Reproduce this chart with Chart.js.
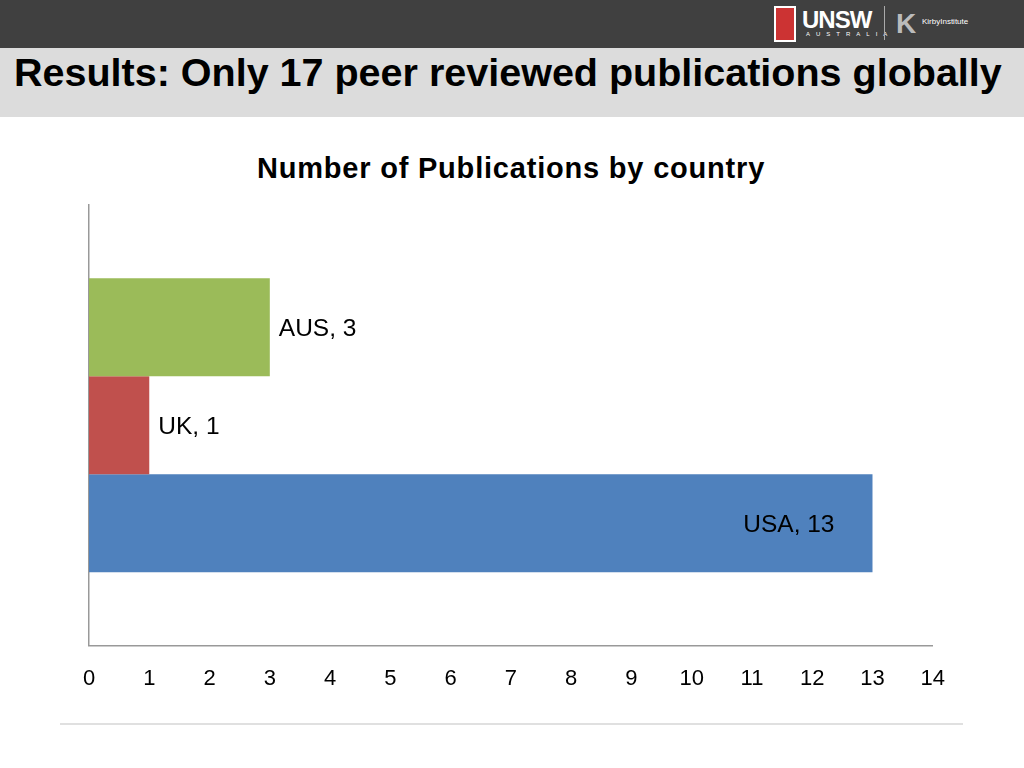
<!DOCTYPE html>
<html><head><meta charset="utf-8">
<script src="https://cdn.jsdelivr.net/npm/chart.js@4"></script>
<style>
body{margin:0;width:1024px;height:768px;position:relative;background:#fff;font-family:"Liberation Sans",Arial,sans-serif;overflow:hidden}
#top{position:absolute;left:0;top:0;width:1024px;height:48px;background:#404040}
#band{position:absolute;left:0;top:48px;width:1024px;height:69px;background:#dcdcdc}
#title{position:absolute;left:14px;top:50px;font-size:39.5px;font-weight:bold;color:#000;white-space:nowrap}
#ct{position:absolute;left:0;width:1022px;top:152px;text-align:center;font-size:29px;font-weight:bold;letter-spacing:0.8px}
#wrap{position:absolute;left:60px;top:200px;width:905px;height:512px}
#hr{position:absolute;left:60px;top:723px;width:903px;height:2px;background:#e0e0e0}
.logo{position:absolute;color:#fff;font-weight:bold}
</style></head><body>
<div id="top"></div>
<div class="logo" style="left:774px;top:6px;width:22px;height:36px;background:#c33;border:2px solid #fff;box-sizing:border-box"></div>
<div class="logo" style="left:802px;top:6px;font-size:24px;letter-spacing:-1px">UNSW</div>
<div class="logo" style="left:806px;top:31px;font-size:6px;letter-spacing:6px;font-weight:normal">AUSTRALIA</div>
<div style="position:absolute;left:884px;top:6px;width:1px;height:34px;background:#aaa"></div>
<div class="logo" style="left:896px;top:8px;font-size:28px;color:#bbb">K</div>
<div class="logo" style="left:922px;top:17px;font-size:8px;font-weight:normal">KirbyInstitute</div>
<div id="band"></div>
<div id="title">Results: Only 17 peer reviewed publications globally</div>
<div id="ct">Number of Publications by country</div>
<div id="wrap"><canvas id="c"></canvas></div>
<div id="hr"></div>
<script>
const categories=["Publications"];
const countries=["AUS","UK","USA"];
const values=[3,1,13];
const colors=["#9BBB59","#C0504D","#4F81BD"];
const xTicks=[0,1,2,3,4,5,6,7,8,9,10,11,12,13,14];
const labelPlugin={id:'lbl',afterDatasetsDraw(ch){const c=ch.ctx;c.save();c.font='24.5px "Liberation Sans",Arial';c.fillStyle='#000';c.textBaseline='middle';
ch.data.datasets.forEach((d,i)=>{const el=ch.getDatasetMeta(i).data[0];const t=countries[i]+', '+values[i];
if(values[i]>10){c.textAlign='right';c.fillText(t,el.x-38,el.y+2);}else{c.textAlign='left';c.fillText(t,el.x+9,el.y+2);}});c.restore();}};
new Chart(document.getElementById('c'),{type:'bar',
data:{labels:categories,datasets:countries.map((n,i)=>({label:n,data:[values[i]],backgroundColor:colors[i],categoryPercentage:0.667,barPercentage:1}))},
options:{indexAxis:'y',responsive:true,maintainAspectRatio:false,animation:false,
layout:{padding:{left:29,right:22,top:5,bottom:0}},
plugins:{legend:{display:false},tooltip:{enabled:false}},
scales:{x:{min:0,max:14,afterBuildTicks(a){a.ticks=xTicks.map(v=>({value:v}))},grid:{display:false,drawTicks:false},border:{color:'#999',width:1.5},ticks:{padding:20,color:'#000',font:{size:22,family:'"Liberation Sans",Arial'}}},
y:{grid:{display:false,drawTicks:false},border:{color:'#999',width:1.5},ticks:{display:false}}}},
plugins:[labelPlugin]});
</script></body></html>
